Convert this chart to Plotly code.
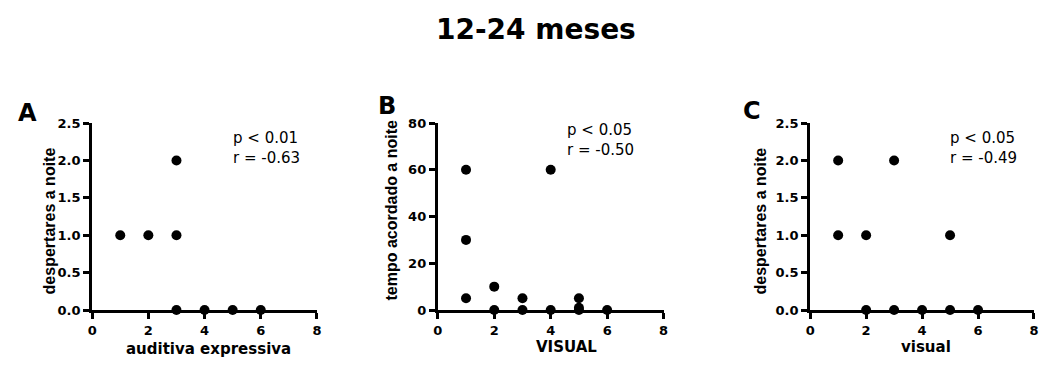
import plotly.graph_objects as go

# Data
a_x = [1, 2, 3, 3, 3, 4, 5, 6]
a_y = [1, 1, 1, 2, 0, 0, 0, 0]
b_x = [1, 1, 1, 2, 2, 3, 3, 4, 4, 5, 5, 5, 6]
b_y = [60, 30, 5, 10, 0, 5, 0, 60, 0, 5, 1, 0, 0]
c_x = [1, 1, 2, 2, 3, 3, 4, 5, 5, 6]
c_y = [2, 1, 1, 0, 2, 0, 0, 1, 0, 0]

x_ticks = [0, 2, 4, 6, 8]
y_ticks_ab = [0, 0.5, 1, 1.5, 2, 2.5]
y_ticks_b = [0, 20, 40, 60, 80]

panels = [
    dict(x=a_x, y=a_y, yr=[0, 2.5], yt=y_ticks_ab, fmt=".1f",
         xl="auditiva expressiva", yl="despertares a noite", stat=["p < 0.01", "r = -0.63"],
         x0=88, x1=315, letter="A", lx=23, ly=111, ylx=45, yly=223, xlc=205, xly=357, sx=228, sy=147),
    dict(x=b_x, y=b_y, yr=[0, 80], yt=y_ticks_b, fmt="d",
         xl="VISUAL", yl="tempo acordado a noite", stat=["p < 0.05", "r = -0.50"],
         x0=437, x1=665, letter="B", lx=386, ly=103, ylx=390, yly=212, xlc=567, xly=355, sx=565, sy=139),
    dict(x=c_x, y=c_y, yr=[0, 2.5], yt=y_ticks_ab, fmt=".1f",
         xl="visual", yl="despertares a noite", stat=["p < 0.05", "r = -0.49"],
         x0=813, x1=1040, letter="C", lx=754, ly=108, ylx=763, yly=223, xlc=930, xly=355, sx=952, sy=147),
]

W, H = 1039, 365
ytop, ybot = 121, 316
fig = go.Figure()
dv = "DejaVu Sans, sans-serif"
lib = "Liberation Sans, Arial, sans-serif"
ann = []


def px(x):
    return x / W


def py(y):
    return 1 - y / H


for i, p in enumerate(panels):
    n = "" if i == 0 else str(i + 1)
    fig.add_trace(go.Scatter(x=p["x"], y=p["y"], mode="markers", xaxis="x" + n, yaxis="y" + n,
                             marker=dict(color="black", size=10), cliponaxis=False, showlegend=False))
    dom_x = [px(p["x0"]), min(px(p["x1"]), 1.0)]
    dom_y = [py(ybot), py(ytop)]
    axcommon = dict(showgrid=False, zeroline=False, showline=True, linecolor="black", linewidth=3,
                    ticks="outside", ticklen=6, tickwidth=2.5, tickcolor="black",
                    tickfont=dict(family=dv, size=13, color="black", weight="bold"))
    fig.update_layout(**{
        "xaxis" + n: dict(domain=dom_x, range=[0, 8], tickvals=x_ticks, anchor="y" + n, **axcommon),
        "yaxis" + n: dict(domain=dom_y, range=p["yr"], tickvals=p["yt"], tickformat=p["fmt"],
                          anchor="x" + n, **axcommon),
    })
    ann.append(dict(x=px(p["lx"]), y=py(p["ly"]), xref="paper", yref="paper", text="<b>%s</b>" % p["letter"],
                    xanchor="center", yanchor="middle", showarrow=False,
                    font=dict(family=dv, size=24, color="black")))
    ann.append(dict(x=px(p["ylx"]), y=py(p["yly"]), xref="paper", yref="paper", text="<b>%s</b>" % p["yl"],
                    textangle=-90, xanchor="center", yanchor="middle", showarrow=False,
                    font=dict(family=lib, size=16, color="black")))
    ann.append(dict(x=px(p["xlc"]), y=py(p["xly"]), xref="paper", yref="paper", text="<b>%s</b>" % p["xl"],
                    xanchor="center", yanchor="middle", showarrow=False,
                    font=dict(family=dv, size=15, color="black")))
    ann.append(dict(x=px(p["sx"]), y=py(p["sy"]), xref="paper", yref="paper", xanchor="left", yanchor="middle",
                    text="<br>".join(p["stat"]), align="left", showarrow=False,
                    font=dict(family=dv, size=15, color="black")))

ann.append(dict(x=px(536), y=py(23), xref="paper", yref="paper", text="<b>12-24 meses</b>",
                xanchor="center", yanchor="middle", showarrow=False,
                font=dict(family=dv, size=28, color="black")))

fig.update_layout(width=W, height=H, margin=dict(l=0, r=0, t=0, b=0), plot_bgcolor="white",
                  paper_bgcolor="white", annotations=ann)
fig.write_html("out.html", config={"displayModeBar": False},
               post_script="document.body.style.margin='0px';")
